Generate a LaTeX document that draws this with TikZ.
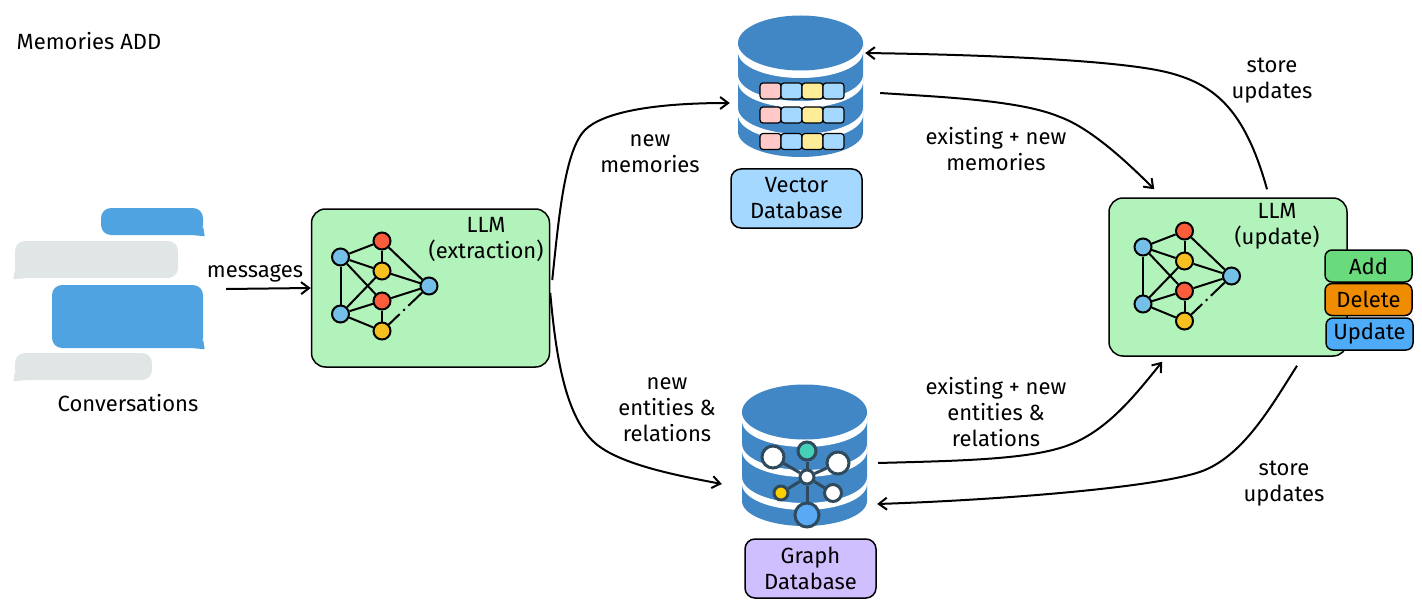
\documentclass[tikz,border=0pt]{standalone}
\usepackage{fontspec}
\setmainfont{Fira Sans}
\usetikzlibrary{arrows.meta}

\definecolor{dbblue}{HTML}{4287C5}
\definecolor{chatblue}{HTML}{4FA3E0}
\definecolor{chatgrey}{HTML}{E0E5E5}
\definecolor{llmgreen}{HTML}{B2F2BB}
\definecolor{cellpink}{HTML}{FFC9C9}
\definecolor{cellblue}{HTML}{A5D8FF}
\definecolor{cellyellow}{HTML}{FFEC99}
\definecolor{netblue}{HTML}{74C0E8}
\definecolor{netred}{HTML}{FA5C3C}
\definecolor{netyellow}{HTML}{F5C020}
\definecolor{hubline}{HTML}{2F4A5C}
\definecolor{hubteal}{HTML}{45D0B8}
\definecolor{hubgold}{HTML}{FFD000}
\definecolor{hubblue}{HTML}{5AA9F5}
\definecolor{addgreen}{HTML}{69DB7C}
\definecolor{delorange}{HTML}{F08C00}
\definecolor{updblue}{HTML}{4DABF7}
\definecolor{graphlilac}{HTML}{D0BFFF}

\tikzset{
	lbl/.style={font=\fontsize{22}{26}\selectfont, align=center, inner sep=0pt},
	chat/.style={rounded corners=10pt, inner sep=0pt},
	card/.style={draw, line width=1.5pt, rounded corners=10pt, inner sep=0pt, font=\fontsize{22}{26}\selectfont, align=center},
	llmbox/.style={card, fill=llmgreen, rounded corners=14pt, minimum width=238pt, minimum height=158pt},
	action/.style={card, rounded corners=7pt, minimum width=87pt, minimum height=32pt},
	flow/.style={line width=2pt, -{Straight Barb[length=8pt,width=12pt]}},
	netnode/.style={circle, draw, line width=2pt, minimum size=17pt, inner sep=0pt},
	hubnode/.style={circle, draw=hubline, line width=3pt, inner sep=0pt},
	cell/.style={draw, line width=1.2pt, rounded corners=3pt, minimum width=21pt, minimum height=16pt, inner sep=0pt},
	llmnet/.pic={
		\node[netnode, fill=netblue]   (-tl) at (0,0)    {};
		\node[netnode, fill=netred]    (-rt) at (41.5,-16) {};
		\node[netnode, fill=netyellow] (-yt) at (41.5,14)  {};
		\node[netnode, fill=netblue]   (-rr) at (88.5,29)  {};
		\node[netnode, fill=netred]    (-rb) at (41.5,44)  {};
		\node[netnode, fill=netblue]   (-bl) at (0,57)     {};
		\node[netnode, fill=netyellow] (-yb) at (41.5,74)  {};
		\foreach \a/\b in {tl/rt, tl/yt, tl/rb, tl/bl, rt/yt, rt/rr, yt/rr, yt/bl, rb/rr, rb/bl, rb/yb, bl/yb}
			\draw[line width=2pt] (-\a) -- (-\b);
		\draw[line width=2pt, dash pattern=on 15pt off 5pt on 2pt off 5pt on 40pt] (-yb) -- (-rr);
	},
	dbstack/.pic={
		\node[minimum width=125pt, minimum height=142pt, inner sep=0pt] (-body) at (0,43) {};
		\fill[dbblue] (-62.5,0) -- (-62.5,89) arc[x radius=62.5, y radius=25, start angle=180, end angle=0] -- (62.5,0) -- cycle;
		\foreach \y/\z in {0/9, 32/39, 65/72}
			\fill[white] (-62.5,\y) arc[x radius=62.5, y radius=26, start angle=180, end angle=0] -- (62.5,\z) arc[x radius=62.5, y radius=26, start angle=0, end angle=180] -- cycle;
		\fill[dbblue] (0,0) ellipse[x radius=62.5, y radius=27.5];
	}
}

\begin{document}
\begin{tikzpicture}[x=1pt, y=-1pt]
	\useasboundingbox (0,0) rectangle (1422,615);

	\node[lbl] (title) at (89,41) {Memories ADD};

	% conversation
	\node[chat, fill=chatblue, minimum width=102pt, minimum height=27pt] (msg1) at (152,221.5) {};
	\node[chat, fill=chatgrey, minimum width=163pt, minimum height=37pt] (msg2) at (96.5,259.5) {};
	\node[chat, fill=chatblue, minimum width=151pt, minimum height=63pt] (msg3) at (127.5,316.5) {};
	\node[chat, fill=chatgrey, minimum width=137pt, minimum height=27pt] (msg4) at (83.5,366.5) {};
	\foreach \m in {msg1, msg3}
		\fill[chatblue] ([xshift=-10pt]\m.south east) -- ([xshift=1.5pt,yshift=-1pt]\m.south east) -- ([yshift=8pt]\m.south east) -- cycle;
	\foreach \m in {msg2, msg4}
		\fill[chatgrey] ([xshift=10pt]\m.south west) -- ([xshift=-1.5pt,yshift=-1pt]\m.south west) -- ([yshift=8pt]\m.south west) -- cycle;
	\node[lbl] (conv) at (128,403) {Conversations};
	\node[lbl] (msgs) at (255,273) {messages};

	% llm boxes
	\node[llmbox] (llmx) at (430.5,288) {};
	\pic (netx) at (340.5,257) {llmnet};
	\node[lbl] (llmxtxt) at (486,240) {LLM\\(extraction)};

	\node[llmbox] (llmu) at (1228,277) {};
	\pic (netu) at (1143,247) {llmnet};
	\node[lbl] (llmutxt) at (1277,226) {LLM\\(update)};

	\node[action, fill=addgreen] (add) at (1368.5,266) {Add};
	\node[action, fill=delorange] (del) at (1368.5,299.5) {Delete};
	\node[action, fill=updblue] (upd) at (1369.5,334) {Update};

	% vector store
	\pic (vec) at (800.5,43) {dbstack};
	\foreach \y in {91, 115, 141.5}
		\foreach \x/\c in {770.5/cellpink, 791.5/cellblue, 812.5/cellyellow, 833.5/cellblue}
			\node[cell, fill=\c] at (\x,\y) {};
	\node[card, fill=cellblue, minimum width=131pt, minimum height=59pt] (vecname) at (796.5,198.5) {Vector\\Database};

	% graph store
	\pic (gra) at (804.5,412) {dbstack};
	\node[hubnode, fill=white, minimum size=14pt] (hub) at (807,477) {};
	\node[hubnode, fill=hubteal, minimum size=18pt] (hteal) at (807,451) {};
	\node[hubnode, fill=white, minimum size=22pt] (hleft) at (773,457) {};
	\node[hubnode, fill=white, minimum size=22pt] (hright) at (838,463) {};
	\node[hubnode, fill=hubgold, minimum size=14pt] (hgold) at (781,493) {};
	\node[hubnode, fill=white, minimum size=17pt] (hlow) at (833,493) {};
	\node[hubnode, fill=hubblue, minimum size=24pt] (hbig) at (807,515) {};
	\foreach \n in {hteal, hleft, hright, hgold, hlow, hbig}
		\draw[hubline, line width=3pt] (hub) -- (\n);
	\node[card, fill=graphlilac, minimum width=131pt, minimum height=59pt] (graname) at (810.5,568.5) {Graph\\Database};

	% connectors
	\draw[flow] ([xshift=23pt,yshift=27.5pt]msg3.east) -- (llmx.west);
	\draw[flow, shorten >=8pt] ([xshift=2pt,yshift=8pt]llmx.east) .. controls (559,215) and (565,150) .. (585,130) .. controls (602,113) and (650,103) .. ([yshift=-17pt]vec-body.west);
	\draw[flow] ([yshift=-5pt]llmx.east) .. controls (555,345) and (563,415) .. (595,443) .. controls (620,465) and (680,476) .. ([xshift=-20pt,yshift=-29pt]gra-body.west);
	\draw[flow] ([xshift=17pt,yshift=-7pt]vec-body.east) .. controls (940,97) and (1020,100) .. (1060,117) .. controls (1090,128) and (1125,160) .. ([xshift=46pt,yshift=8pt]llmu.north west);
	\draw[flow] ([xshift=39pt,yshift=8pt]llmu.north) .. controls (1245,110) and (1215,85) .. (1170,73) .. controls (1125,61) and (1000,55) .. ([xshift=2pt,yshift=33pt]vec-body.east);
	\draw[flow] ([xshift=11pt,yshift=-8pt]gra-body.east) .. controls (950,461) and (1020,460) .. (1060,448) .. controls (1105,435) and (1135,395) .. ([xshift=54pt,yshift=-5pt]llmu.south west);
	\draw[flow] ([xshift=69pt,yshift=-9pt]llmu.south) .. controls (1272,405) and (1245,453) .. (1205,470) .. controls (1165,487) and (1000,500) .. ([xshift=10pt,yshift=-49pt]gra-body.east);

	% labels on connectors
	\node[lbl] (lvec) at (650,154) {new\\memories};
	\node[lbl] (lgra) at (667,410) {new\\entities \&\\relations};
	\node[lbl] (lvecold) at (996,149) {existing + new\\memories};
	\node[lbl] (lgraold) at (996,412) {existing + new\\entities \&\\relations};
	\node[lbl] (lstoreu) at (1272,81) {store\\updates};
	\node[lbl] (lstored) at (1284,484) {store\\updates};
\end{tikzpicture}
\end{document}
